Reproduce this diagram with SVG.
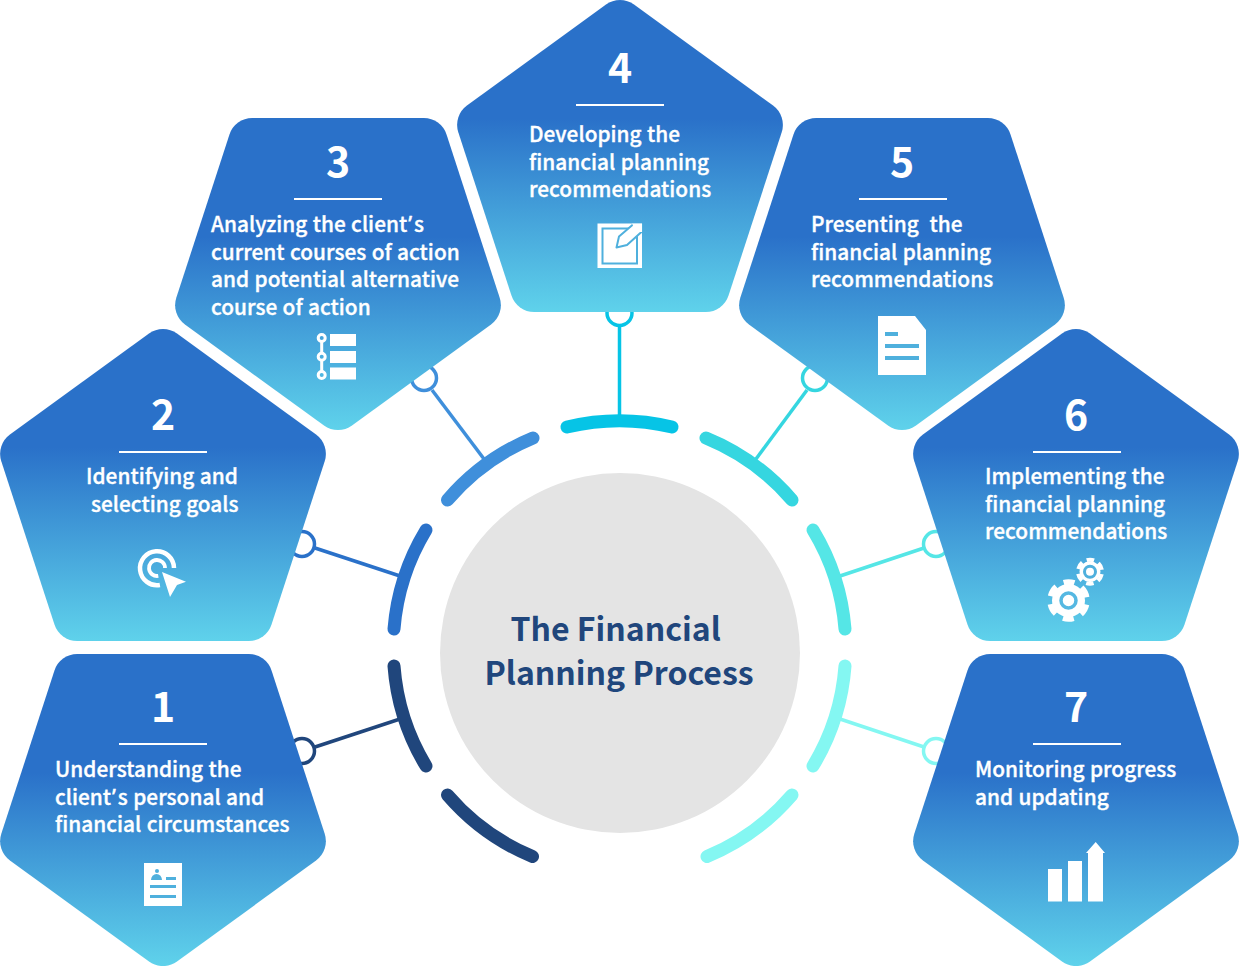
<svg xmlns="http://www.w3.org/2000/svg" width="1239" height="966" viewBox="0 0 1239 966">
<style>
text{font-family:"Noto Sans CJK SC","Noto Sans",sans-serif}
.t{fill:#fff;stroke:#fff;stroke-width:.35px;font-size:20.8px;font-weight:500;word-spacing:.7px;letter-spacing:.03px}
.ap{font-family:"Noto Sans",sans-serif;letter-spacing:1.8px}
.n{fill:#fff;font-size:41px;font-weight:700;text-anchor:middle}
.r{stroke:#fff;stroke-width:2;fill:none}
.w{fill:#fff}
.b{fill:#4fb0dd}
.arc{fill:none;stroke-width:13;stroke-linecap:round}
.ln{fill:none;stroke-width:3.5}
.title{fill:#20467c;font-size:32px;font-weight:700}
</style>
<defs>
<linearGradient id="gu" x1="0" y1="0" x2="0" y2="1"><stop offset="0.38" stop-color="#2a71c9"/><stop offset="1" stop-color="#5fd2eb"/></linearGradient>
<linearGradient id="gd" x1="0" y1="1" x2="0" y2="0"><stop offset="0.38" stop-color="#2a71c9"/><stop offset="1" stop-color="#5fd2eb"/></linearGradient>
<path id="p" d="M14.08-166.27L153.82-64.73A24 24 0 0 1 162.52-37.95L109.08 126.25A24 24 0 0 1 86.3 142.8L-86.3 142.8A24 24 0 0 1-109.08 126.25L-162.52-37.95A24 24 0 0 1-153.82-64.73L-14.08-166.27A24 24 0 0 1 14.08-166.27Z"/>
</defs>
<circle id="center-circle" cx="620" cy="653" r="180" fill="#e4e4e4"/>
<g id="connectors">
<g class="ln">
<path stroke="#20467c" d="M400 719L315 747"/><circle stroke="#20467c" cx="302" cy="751" r="12.500"/>
<path stroke="#2a71c9" d="M400 576L315 548"/><circle stroke="#2a71c9" cx="302" cy="544" r="12.500"/>
<path stroke="#3f8fdb" d="M484 459L432 390"/><circle stroke="#3f8fdb" cx="424" cy="378" r="12.500"/>
<path stroke="#06c4e6" d="M619.500 417V326"/><circle stroke="#06c4e6" cx="619.500" cy="313" r="12.500"/>
<path stroke="#35d6e0" d="M756 459L807 390"/><circle stroke="#35d6e0" cx="815" cy="378" r="12.500"/>
<path stroke="#55e6e6" d="M840 576L924 548"/><circle stroke="#55e6e6" cx="936" cy="544" r="12.500"/>
<path stroke="#84f7f2" d="M840 719L924 747"/><circle stroke="#84f7f2" cx="936" cy="751" r="12.500"/>
</g>
<g class="arc">
<path stroke="#20467c" d="M447.500 795A226 226 0 0 0 532.500 856.500"/>
<path stroke="#20467c" d="M394 666A226 226 0 0 0 426 766"/>
<path stroke="#2a71c9" d="M394 629A226 226 0 0 1 426 530"/>
<path stroke="#3f8fdb" d="M447.500 500A226 226 0 0 1 533 438"/>
<path stroke="#06c4e6" d="M567 427A226 226 0 0 1 672 427"/>
<path stroke="#35d6e0" d="M706 438A226 226 0 0 1 792 500"/>
<path stroke="#55e6e6" d="M813 530A226 226 0 0 1 845 629"/>
<path stroke="#84f7f2" d="M845 666A226 226 0 0 1 813 766"/>
<path stroke="#84f7f2" d="M792 795A226 226 0 0 1 707 856.500"/>
</g>
</g>
<g id="title"><text class="title" x="510.500" y="640.500">The Financial</text><text class="title" x="484.500" y="684.500">Planning Process</text></g>

<g id="node1">
<use href="#p" fill="url(#gd)" transform="translate(163 796.100) scale(.995 -.995)"/>
<text class="n" x="163" y="722">1</text><path class="r" d="M119 744H207"/>
<text class="t" x="55" y="777">Understanding the</text><text class="t" x="55" y="804.500">client<tspan class="ap" dx="1">’</tspan>s personal and</text><text class="t" x="55" y="832">financial circumstances</text>
<rect class="w" x="144" y="863" width="38" height="43"/>
<circle class="b" cx="157" cy="871" r="2"/><path class="b" d="M151 880a5.500 6 0 0 1 11 0z"/><rect class="b" x="166" y="877" width="10" height="3"/><rect class="b" x="150" y="885" width="26" height="3"/><rect class="b" x="150" y="895" width="26" height="3"/>
</g>
<g id="node2">
<use href="#p" fill="url(#gu)" transform="translate(163 499) scale(.995)"/>
<text class="n" x="163" y="430">2</text><path class="r" d="M119 452H207"/>
<text class="t" x="86" y="484">Identifying and</text><text class="t" x="91" y="511.500">selecting goals</text>
<g fill="none" stroke="#fff"><path stroke-width="4.500" d="M159.900 585A17 17 0 1 1 174 568"/><path stroke-width="3.800" d="M158.300 575.900A8 8 0 1 1 165 568"/></g>
<path class="w" d="M162 572L186 581.700L177 585L170 597Z"/>
</g>
<g id="node3">
<use href="#p" fill="url(#gd)" transform="translate(338 260.100) scale(.995 -.995)"/>
<text class="n" x="338" y="177">3</text><path class="r" d="M294 199H382"/>
<text class="t" x="211" y="232">Analyzing the client<tspan class="ap" dx="1">’</tspan>s</text><text class="t" x="211" y="259.500">current courses of action</text><text class="t" x="211" y="287">and potential alternative</text><text class="t" x="211" y="314.500">course of action</text>
<rect class="w" x="330" y="334" width="26" height="12"/><rect class="w" x="330" y="351" width="26" height="12"/><rect class="w" x="330" y="367.500" width="26" height="12"/>
<g fill="none" stroke="#fff" stroke-width="3"><path d="M321.700 341V353M321.700 360V371"/><circle cx="321.700" cy="338" r="3.500"/><circle cx="321.700" cy="356.700" r="3.500"/><circle cx="321.700" cy="375" r="3.500"/></g>
</g>
<g id="node4">
<use href="#p" fill="url(#gu)" transform="translate(620 170) scale(.995)"/>
<text class="n" x="620" y="83">4</text><path class="r" d="M576 105H664"/>
<text class="t" x="529" y="142">Developing the</text><text class="t" x="529" y="169.500">financial planning</text><text class="t" x="529" y="197">recommendations</text>
<rect class="w" x="597.500" y="223.500" width="44.500" height="44.500"/>
<rect x="602.500" y="228.500" width="34.500" height="35" fill="none" stroke="#4fb0dd" stroke-width="2"/>
<path class="w" stroke="#4fb0dd" stroke-width="2" stroke-linejoin="round" d="M616.500 247.500L619 236.500L633 224.500H642V231.500L627 245Z"/>
<path class="w" d="M632 223.500H642V232H636Z"/>
</g>
<g id="node5">
<use href="#p" fill="url(#gd)" transform="translate(902 260.100) scale(.995 -.995)"/>
<text class="n" x="902" y="177">5</text><path class="r" d="M859 199H947"/>
<text class="t" x="811" y="232" xml:space="preserve">Presenting  the</text><text class="t" x="811" y="259.500">financial planning</text><text class="t" x="811" y="287">recommendations</text>
<path class="w" d="M878 316H915L926 330V375H878Z"/><rect class="b" x="885" y="332" width="13" height="4"/><rect class="b" x="885" y="344" width="34" height="4"/><rect class="b" x="885" y="356" width="34" height="4"/>
</g>
<g id="node6">
<use href="#p" fill="url(#gu)" transform="translate(1076 499) scale(.995)"/>
<text class="n" x="1076" y="430">6</text><path class="r" d="M1033 452H1121"/>
<text class="t" x="985" y="484">Implementing the</text><text class="t" x="985" y="511.500">financial planning</text><text class="t" x="985" y="539">recommendations</text>
<g id="gears" fill="none"><circle cx="1068.500" cy="600.500" r="18.500" stroke="#fff" stroke-width="5.500" stroke-dasharray="11 8.370" stroke-dashoffset="-4.180"/><circle cx="1068.500" cy="600.500" r="16.500" fill="#fff"/><circle cx="1068.500" cy="600.500" r="7.500" stroke="#55b8e2" stroke-width="3.500"/><circle cx="1090" cy="571.700" r="12" stroke="#fff" stroke-width="4" stroke-dasharray="7.500 5.070" stroke-dashoffset="-2.530"/><circle cx="1090" cy="571.700" r="10.500" fill="#fff"/><circle cx="1090" cy="571.700" r="5.500" stroke="#4fb0dd" stroke-width="3"/></g>
</g>
<g id="node7">
<use href="#p" fill="url(#gd)" transform="translate(1076 796.100) scale(.995 -.995)"/>
<text class="n" x="1076" y="722">7</text><path class="r" d="M1033 744H1121"/>
<text class="t" x="975" y="777">Monitoring progress</text><text class="t" x="975" y="804.500">and updating</text>
<rect class="w" x="1048" y="869" width="14" height="32.500"/><rect class="w" x="1068" y="861" width="14" height="40.500"/><path class="w" d="M1088 901.500V853H1086L1095.700 842L1105 853H1103V901.500Z"/>
</g>
</svg>
